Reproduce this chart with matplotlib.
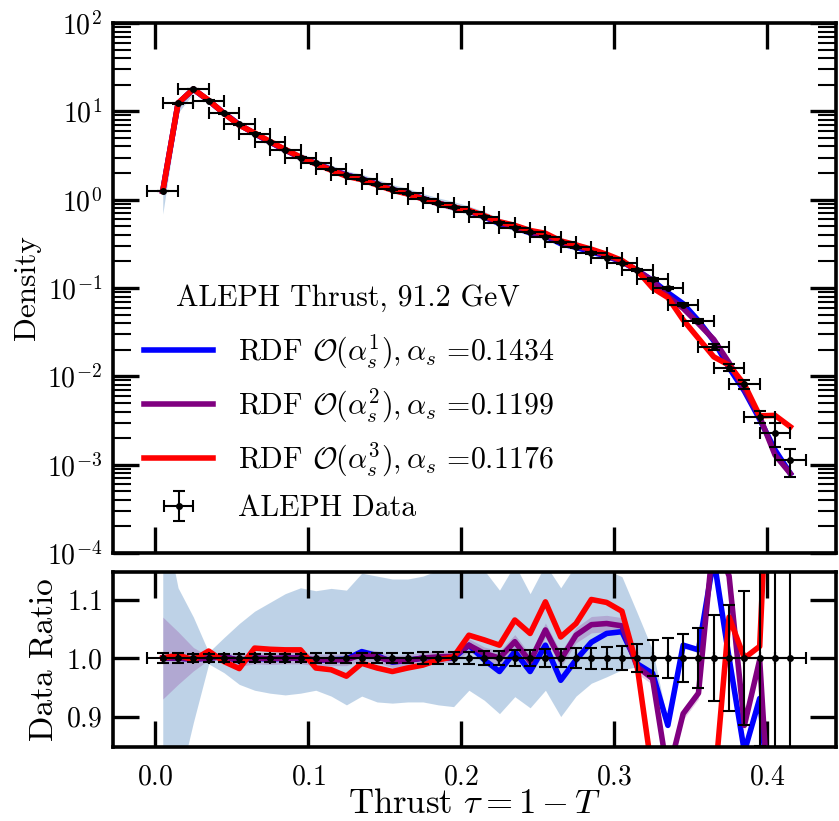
import matplotlib.pyplot as plt
import numpy as np

plt.rcParams['font.family'] = 'serif'
plt.rcParams['font.serif'] = ['cmr10']
plt.rcParams['mathtext.fontset'] = 'cm'
plt.rcParams['axes.formatter.use_mathtext'] = True

# bin centres of thrust tau
tau = [0.005, 0.015, 0.025, 0.035, 0.045, 0.055, 0.065, 0.075, 0.085, 0.095,
       0.105, 0.115, 0.125, 0.135, 0.145, 0.155, 0.165, 0.175, 0.185, 0.195,
       0.205, 0.215, 0.225, 0.235, 0.245, 0.255, 0.265, 0.275, 0.285, 0.295,
       0.305, 0.315, 0.325, 0.335, 0.345, 0.355, 0.365, 0.375, 0.385, 0.395,
       0.405, 0.415]

# ALEPH data density and relative errors
density = [1.25, 12.3, 17.9, 13.2, 9.5, 7.1, 5.6, 4.5, 3.65, 2.99,
           2.58, 2.2, 1.9, 1.70, 1.49, 1.31, 1.18, 1.03, 0.91, 0.82,
           0.73, 0.64, 0.55, 0.48, 0.43, 0.38, 0.33, 0.29, 0.25, 0.22,
           0.19, 0.16, 0.125, 0.10, 0.065, 0.042, 0.0216, 0.0125, 0.0081, 0.0035,
           0.00226, 0.00112]
rel_err = [0.009, 0.008, 0.007, 0.007, 0.007, 0.007, 0.007, 0.007, 0.007, 0.007,
           0.008, 0.008, 0.008, 0.008, 0.009, 0.009, 0.009, 0.010, 0.010, 0.011,
           0.011, 0.012, 0.012, 0.013, 0.014, 0.015, 0.016, 0.017, 0.018, 0.019,
           0.021, 0.024, 0.030, 0.034, 0.041, 0.051, 0.073, 0.091, 0.115, 0.15,
           0.30, 0.35]
x_halfwidth = 0.01

# model / data ratios
ratio_o1 = [1.0, 1.0, 0.998, 1.0, 1.003, 0.995, 1.0, 0.998, 1.0, 1.0,
            0.996, 0.997, 0.998, 1.011, 1.004, 0.993, 0.996, 1.0, 1.0, 1.0,
            1.022, 0.997, 0.977, 1.011, 0.977, 1.022, 0.962, 0.997, 1.027, 1.042,
            1.045, 0.99, 0.974, 0.885, 1.022, 1.014, 1.17, 1.0, 0.84, 0.931,
            0.65, 0.71]
ratio_o2 = [1.0, 1.0, 0.998, 1.0, 1.002, 0.996, 1.0, 0.999, 1.0, 1.0,
            0.997, 0.997, 0.997, 1.006, 1.002, 0.994, 0.996, 1.0, 1.002, 1.003,
            1.022, 1.008, 1.0, 1.028, 0.994, 1.048, 0.997, 1.039, 1.057, 1.059,
            1.055, 0.985, 0.965, 0.80, 0.905, 0.94, 1.21, 1.14, 0.885, 0.997,
            0.57, 0.71]
ratio_o3 = [1.0, 1.005, 0.997, 1.012, 0.994, 0.982, 1.017, 1.015, 1.014, 1.014,
            0.983, 0.98, 0.969, 0.991, 0.983, 0.977, 0.983, 0.988, 0.997, 1.002,
            1.039, 1.031, 1.022, 1.065, 1.042, 1.096, 1.036, 1.059, 1.10, 1.095,
            1.08, 0.985, 0.80, 0.78, 0.67, 0.64, 0.77, 1.07, 1.0, 1.02,
            1.6, 2.4]

# uncertainty bands (ratio units)
band_o1_lo = [0.55, 0.78, 0.89, 0.99, 0.975, 0.955, 0.945, 0.94, 0.937, 0.94,
              0.945, 0.935, 0.92, 0.935, 0.925, 0.923, 0.925, 0.925, 0.92, 0.917,
              0.945, 0.928, 0.905, 0.934, 0.915, 0.945, 0.90, 0.935, 0.957, 0.968,
              0.98, 0.985, 0.965, 0.88, 1.017, 1.009, 1.16, 0.99, 0.835, 0.925,
              0.64, 0.70]
band_o1_hi = [1.25, 1.12, 1.07, 1.01, 1.035, 1.059, 1.08, 1.095, 1.11, 1.12,
              1.115, 1.119, 1.116, 1.145, 1.14, 1.135, 1.135, 1.14, 1.15, 1.16,
              1.16, 1.15, 1.116, 1.16, 1.11, 1.16, 1.12, 1.16, 1.16, 1.15,
              1.139, 1.077, 1.014, 0.89, 1.025, 1.017, 1.18, 1.0, 0.845, 0.935,
              0.65, 0.72]
band_o2_half = [0.07, 0.045, 0.02, 0.003, 0.008, 0.01, 0.01, 0.01, 0.01, 0.01,
                0.01, 0.01, 0.01, 0.01, 0.01, 0.01, 0.01, 0.01, 0.01, 0.01,
                0.011, 0.011, 0.012, 0.012, 0.012, 0.012, 0.013, 0.013, 0.014, 0.014,
                0.014, 0.012, 0.01, 0.01, 0.01, 0.01, 0.01, 0.01, 0.01, 0.01,
                0.01, 0.01]
band_o3_half = 0.004

labels = [r'RDF $\mathcal{O}(\alpha_s^1), \alpha_s$ =0.1434',
          r'RDF $\mathcal{O}(\alpha_s^2), \alpha_s$ =0.1199',
          r'RDF $\mathcal{O}(\alpha_s^3), \alpha_s$ =0.1176']
colors = ['#0000ff', '#800080', '#ff0000']

tau = np.array(tau)
density = np.array(density)
rel_err = np.array(rel_err)
ratios = [np.array(ratio_o1), np.array(ratio_o2), np.array(ratio_o3)]
bands = [(np.array(band_o1_lo), np.array(band_o1_hi)),
         (ratios[1] - np.array(band_o2_half), ratios[1] + np.array(band_o2_half)),
         (ratios[2] - band_o3_half, ratios[2] + band_o3_half)]
band_colors = [('#7fa7d0', 0.5), ('#800080', 0.2), ('#ff0000', 0.15)]

fig = plt.figure(figsize=(8.39, 8.21), dpi=100)
ax1 = fig.add_axes([0.1347, 0.3264, 0.862, 0.6456])
ax2 = fig.add_axes([0.1347, 0.0901, 0.862, 0.2132])

for i in range(3):
    bc, ba = band_colors[i]
    ax1.fill_between(tau, density * bands[i][0], density * bands[i][1],
                     color=bc, alpha=ba, lw=0, zorder=1)
    ax2.fill_between(tau, bands[i][0], bands[i][1], color=bc, alpha=ba, lw=0, zorder=1)
for i in range(3):
    ax1.plot(tau, density * ratios[i], color=colors[i], lw=4, label=labels[i], zorder=2)
    ax2.plot(tau, ratios[i], color=colors[i], lw=4, zorder=2)

ax1.errorbar(tau, density, yerr=density * rel_err, xerr=x_halfwidth, fmt='o',
             color='black', ms=4, elinewidth=1.5, capsize=4, capthick=1.5,
             label='ALEPH Data', zorder=3)
ax2.errorbar(tau, np.ones_like(tau), yerr=rel_err, xerr=x_halfwidth, fmt='o',
             color='black', ms=4, elinewidth=1.5, capsize=4, capthick=1.5, zorder=3)

ax1.set_yscale('log')
ax1.set_ylim(1e-4, 1e2)
ax1.set_xlim(-0.0275, 0.445)
ax2.set_xlim(-0.0275, 0.445)
ax2.set_ylim(0.848, 1.147)
ax2.set_yticks([0.9, 1.0, 1.1])
ax1.set_xticks([0.0, 0.1, 0.2, 0.3, 0.4])
ax2.set_xticks([0.0, 0.1, 0.2, 0.3, 0.4])
ax1.set_xticklabels([])

for ax in (ax1, ax2):
    for s in ax.spines.values():
        s.set_linewidth(2.6)
    ax.tick_params(which='both', direction='in', top=True, right=True, labelsize=20)
    ax.tick_params(which='major', length=19, width=2.4, pad=8)
    ax.tick_params(which='minor', length=13, width=1.5)
ax2.tick_params(axis='x', pad=12)

ax1.set_ylabel('Density', fontsize=22.5)
ax2.set_ylabel('Data Ratio', fontsize=24)
ax1.yaxis.set_label_coords(-0.1, 0.5)
ax2.yaxis.set_label_coords(-0.076, 0.5)
ax2.set_xlabel(r'Thrust $\tau = 1 - T$', fontsize=25)
ax2.xaxis.set_label_coords(0.5, -0.235)

# legend title drawn as text so its gap to the entries matches
ax1.text(0.3255, 0.481, 'ALEPH Thrust, 91.2 GeV', transform=ax1.transAxes,
         ha='center', va='center', fontsize=21.5)
leg = ax1.legend(loc='upper left', bbox_to_anchor=(0.006, 0.466), frameon=False,
                 fontsize=21.5, handlelength=2.3, handletextpad=0.85,
                 labelspacing=0.53)

fig.savefig('out.png', dpi=100)
